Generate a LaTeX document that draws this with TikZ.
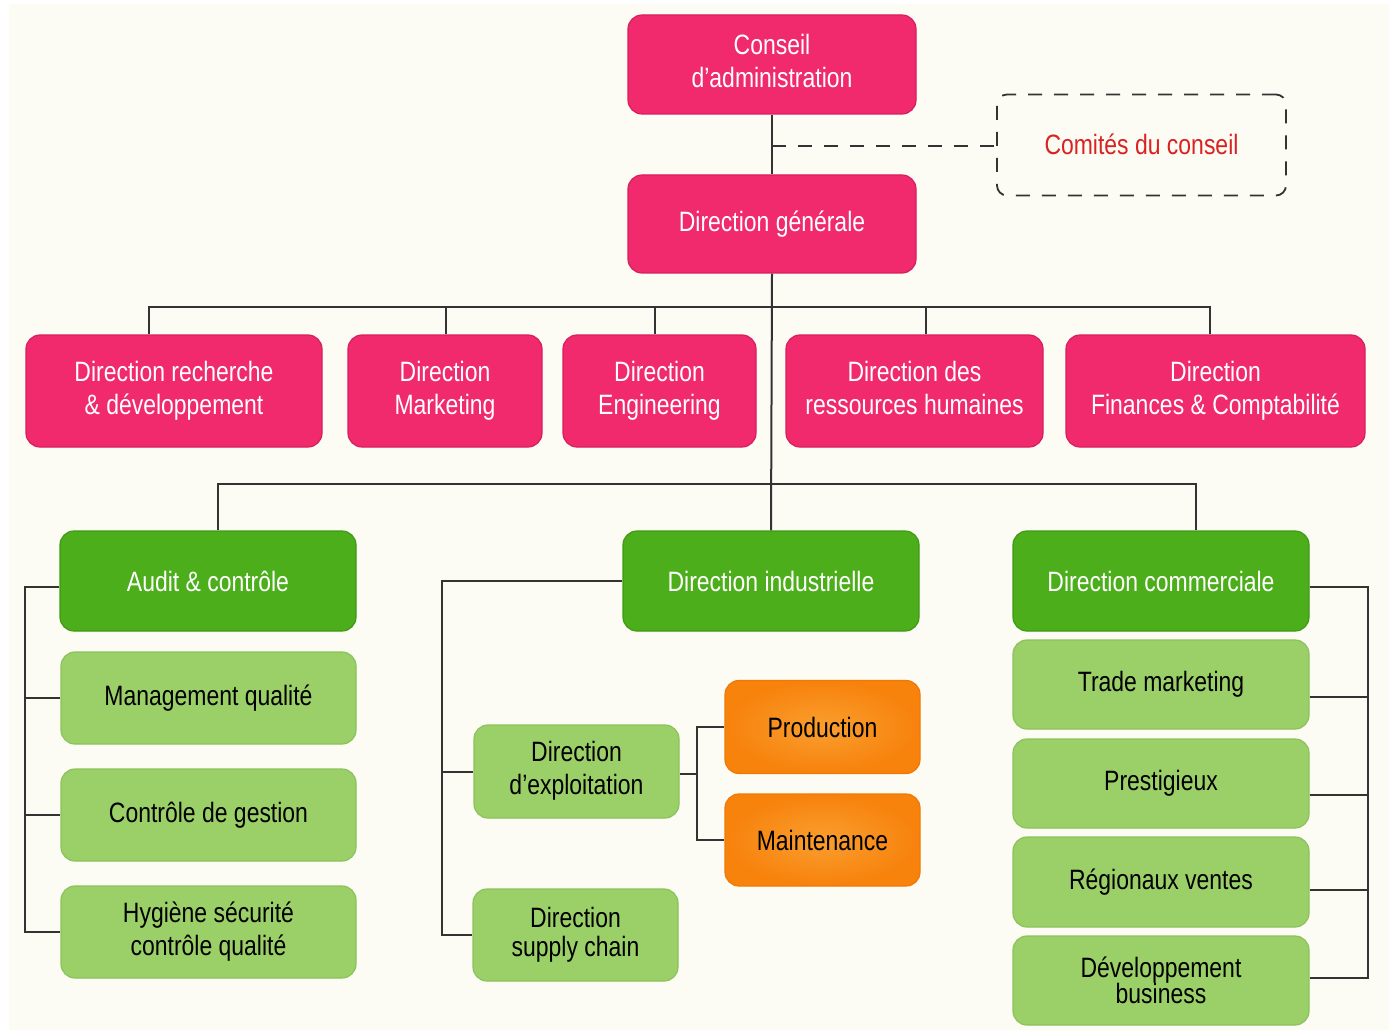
\documentclass[tikz,border=0pt]{standalone}
\usepackage{fontspec}
\setmainfont{Liberation Sans}[FakeStretch=0.82]
\usetikzlibrary{calc}
\definecolor{bgcream}{HTML}{FCFCF5}
\definecolor{pinkf}{HTML}{F02A6C}
\definecolor{pinkd}{HTML}{D81F5E}
\definecolor{dgreenf}{HTML}{4CAE1B}
\definecolor{dgreend}{HTML}{3F9A14}
\definecolor{lgreenf}{HTML}{9BD068}
\definecolor{lgreend}{HTML}{8CC25B}
\definecolor{orangef}{HTML}{F7820C}
\definecolor{orangel}{HTML}{FA9E2E}
\definecolor{oranged}{HTML}{EE7A05}
\definecolor{linec}{HTML}{333333}
\definecolor{redtext}{HTML}{D92222}
\newcommand{\twol}[3]{\raisebox{#1}{\begin{tabular}{@{}c@{}}#2\\#3\end{tabular}}}
\tikzset{
  basebox/.style={rounded corners=14pt, line width=1.2pt, inner sep=0pt, align=center,
    font=\fontsize{28}{33}\selectfont},
  pinkbox/.style={basebox, fill=pinkf, draw=pinkd, text=white},
  dgreenbox/.style={basebox, fill=dgreenf, draw=dgreend, text=white},
  lgreenbox/.style={basebox, fill=lgreenf, draw=lgreend, text=black},
  orangebox/.style={basebox, inner color=orangel, outer color=orangef, draw=oranged, text=black},
  comitebox/.style={basebox, draw=linec, dash pattern=on 14pt off 12pt, line width=1.8pt, text=redtext, rounded corners=10pt},
  conn/.style={draw=linec, line width=2pt},
  dashline/.style={draw=linec, line width=2pt, dash pattern=on 14pt off 12pt},
}
\begin{document}
\begin{tikzpicture}[x=1pt,y=-1pt]
\useasboundingbox (0,0) rectangle (1394,1032);
\fill[white] (0,0) rectangle (1394,1032);
\fill[bgcream] (9,4) rectangle (1389,1030);

% nodes
\node[pinkbox, minimum width=288pt, minimum height=99pt] (ca) at (772,64.5) {\twol{3pt}{Conseil}{d'administration}};
\node[comitebox, minimum width=289pt, minimum height=101pt] (com) at (1141.5,145) {\raisebox{2pt}{Comités du conseil}};
\node[pinkbox, minimum width=288pt, minimum height=98pt] (dg) at (772,224) {Direction générale};

\node[pinkbox, minimum width=296pt, minimum height=112pt] (rd) at (174,391) {\twol{5pt}{Direction recherche}{\& développement}};
\node[pinkbox, minimum width=194pt, minimum height=112pt] (mk) at (445,391) {\twol{0pt}{Direction}{Marketing}};
\node[pinkbox, minimum width=193pt, minimum height=112pt] (en) at (659.5,391) {\twol{6pt}{Direction}{Engineering}};
\node[pinkbox, minimum width=257pt, minimum height=112pt] (rh) at (914.5,391) {\twol{5pt}{Direction des}{ressources humaines}};
\node[pinkbox, minimum width=299pt, minimum height=112pt] (fi) at (1215.5,391) {\twol{5pt}{Direction}{Finances \& Comptabilité}};

\node[dgreenbox, minimum width=296pt, minimum height=100pt] (au) at (208,581) {Audit \& contrôle};
\node[dgreenbox, minimum width=296pt, minimum height=100pt] (di) at (771,581) {Direction industrielle};
\node[dgreenbox, minimum width=296pt, minimum height=100pt] (dc) at (1161,581) {Direction commerciale};

\node[lgreenbox, minimum width=295pt, minimum height=92pt] (mq) at (208.5,698) {Management qualité};
\node[lgreenbox, minimum width=295pt, minimum height=92pt] (cg) at (208.5,815) {Contrôle de gestion};
\node[lgreenbox, minimum width=295pt, minimum height=92pt] (hy) at (208.5,932) {\twol{2pt}{Hygiène sécurité}{contrôle qualité}};

\node[lgreenbox, minimum width=205pt, minimum height=93pt] (ex) at (576.5,771.5) {\twol{4pt}{Direction}{d'exploitation}};
\node[lgreenbox, minimum width=205pt, minimum height=92pt] (sc) at (575.5,935) {Direction\\[-4pt]supply chain};
\node[orangebox, minimum width=195pt, minimum height=93pt] (pr) at (822.5,727) {Production};
\node[orangebox, minimum width=195pt, minimum height=92pt] (mt) at (822.5,840) {Maintenance};

\node[lgreenbox, minimum width=296pt, minimum height=89pt] (tm) at (1161,684.5) {\raisebox{-3pt}{Trade marketing}};
\node[lgreenbox, minimum width=296pt, minimum height=89pt] (pg) at (1161,783.5) {\raisebox{-6pt}{Prestigieux}};
\node[lgreenbox, minimum width=296pt, minimum height=90pt] (rv) at (1161,882) {Régionaux ventes};
\node[lgreenbox, minimum width=296pt, minimum height=89pt] (db) at (1161,980.5) {Développement\\[-7pt]business};

% connectors top
\coordinate (j1) at (772,146);
\draw[conn] (ca.south) -- (dg.north);
\draw[dashline] (j1) -- (j1 -| com.west);
\draw[conn] (dg.south) -- (di.north);

% bus level 2
\coordinate (busL) at (149,307);
\draw[conn] ([xshift=-25pt]rd.north) |- ([xshift=-5.5pt]fi.north |- busL) -- ([xshift=-5.5pt]fi.north);
\draw[conn] ([xshift=1pt]mk.north) -- ([xshift=1pt]mk.north |- busL);
\draw[conn] ([xshift=-4.5pt]en.north) -- ([xshift=-4.5pt]en.north |- busL);
\draw[conn] ([xshift=11.5pt]rh.north) -- ([xshift=11.5pt]rh.north |- busL);

% bus level 3
\draw[conn] ([xshift=10pt]au.north) -- ++(0,-46) -| ([xshift=35pt]dc.north);

% audit bracket
\coordinate (aL) at (25,587);
\draw[conn] (au.west |- aL) -- (aL) |- (hy.west);
\draw[conn] (mq.west) -- (mq.west -| aL);
\draw[conn] (cg.west) -- (cg.west -| aL);

% industrielle bracket
\coordinate (iL) at (442,581);
\draw[conn] (di.west) -- (iL) |- (sc.west);
\draw[conn] (ex.west) -- (ex.west -| iL);
\coordinate (eR) at (697,774);
\draw[conn] (ex.east |- eR) -- (eR);
\draw[conn] (pr.west) -| (eR) |- (mt.west);

% commerciale bracket
\coordinate (cR) at (1368,587);
\draw[conn] (dc.east |- cR) -- (cR) |- ([yshift=3pt]db.east);
\draw[conn] ([yshift=-12pt]tm.east) -- ([yshift=-12pt]tm.east -| cR);
\draw[conn] ([yshift=-11pt]pg.east) -- ([yshift=-11pt]pg.east -| cR);
\draw[conn] ([yshift=-8pt]rv.east) -- ([yshift=-8pt]rv.east -| cR);
\end{tikzpicture}
\end{document}
